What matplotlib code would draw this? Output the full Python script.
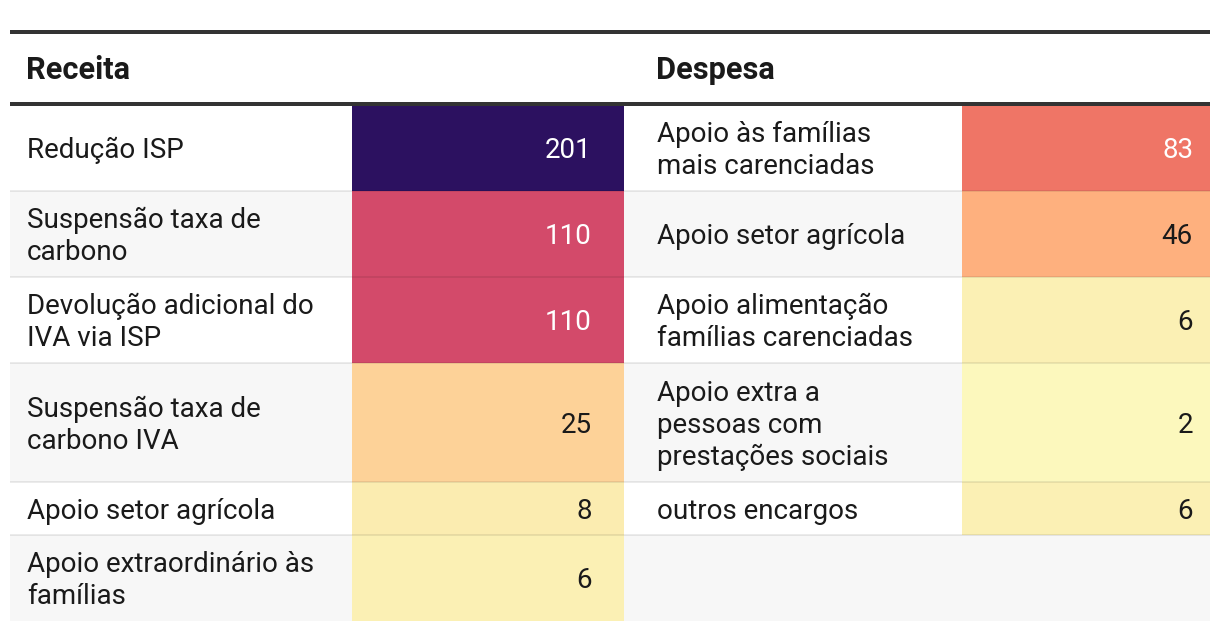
import matplotlib
matplotlib.use("Agg")
import matplotlib.pyplot as plt
from matplotlib.colors import LinearSegmentedColormap, Normalize, to_rgb
from matplotlib.patches import Rectangle

# ---------------- data ----------------
headers = ["Receita", "Despesa"]
receita_labels = [
    "Redução ISP",
    "Suspensão taxa de\ncarbono",
    "Devolução adicional do\nIVA via ISP",
    "Suspensão taxa de\ncarbono IVA",
    "Apoio setor agrícola",
    "Apoio extraordinário às\nfamílias",
]
receita_values = [201, 110, 110, 25, 8, 6]
despesa_labels = [
    "Apoio às famílias\nmais carenciadas",
    "Apoio setor agrícola",
    "Apoio alimentação\nfamílias carenciadas",
    "Apoio extra a\npessoas com\nprestações sociais",
    "outros encargos",
]
despesa_values = [83, 46, 6, 2, 6]

# colour scale (value -> colour stops)
scale_values = [0, 2, 6, 25, 46, 83, 110, 201]
scale_colors = ["#fcfdbf", "#fcf7bc", "#fbefb3", "#fdd197", "#feb07e",
                "#ef7566", "#d44a6a", "#2c1160"]

# ---------------- style ----------------
W, H = 1220, 630
FONT = "Roboto"
PX = 0.72  # px -> pt at dpi 100
FS = 27.8 * PX
FS_HEAD = 30.8 * PX
LINE = 32
TEXT_DARK = "#1a1a1a"

X_LEFT, X_C1, X_C2, X_C3, X_RIGHT = 10, 352, 624, 962, 1210
PAD = 17

vmax = max(scale_values)
norm = Normalize(0, vmax)
cmap = LinearSegmentedColormap.from_list(
    "scale", [(v / vmax, c) for v, c in zip(scale_values, scale_colors)])

fig = plt.figure(figsize=(W / 100, H / 100), dpi=100)
ax = fig.add_axes([0, 0, 1, 1])
ax.set_xlim(0, W)
ax.set_ylim(H, 0)
ax.axis("off")

n_rows = max(len(receita_labels), len(despesa_labels))


def nlines(s):
    return s.count("\n") + 1


def text_block(x, yc, s, ha, color, weight="normal", fs=FS, off=10.5):
    lines = s.split("\n")
    n = len(lines)
    for i, ln in enumerate(lines):
        yb = yc + (i - (n - 1) / 2) * LINE + off
        ax.text(x, yb, ln, ha=ha, va="baseline", fontsize=fs,
                family=FONT, color=color, fontweight=weight)


def lum(c):
    r, g, b = to_rgb(c)
    return 0.299 * r + 0.587 * g + 0.114 * b


# header
y_top_rule = 32
y_head_rule = 104
ax.plot([X_LEFT, X_RIGHT], [y_top_rule, y_top_rule], color="#333333",
        lw=4 * PX, solid_capstyle="butt")
text_block(X_LEFT + PAD - 1, 68, headers[0], "left", TEXT_DARK, "bold",
           FS_HEAD, 11)
text_block(X_C2 + 32, 68, headers[1], "left", TEXT_DARK, "bold",
           FS_HEAD, 11)

# rows
y = 105
bounds = []
for i in range(n_rows):
    nl = 1
    if i < len(receita_labels):
        nl = max(nl, nlines(receita_labels[i]))
    if i < len(despesa_labels):
        nl = max(nl, nlines(despesa_labels[i]))
    h = 20 + 33 * nl
    bg = "white" if i % 2 == 0 else "#f7f7f7"
    ax.add_patch(Rectangle((X_LEFT, y), X_RIGHT - X_LEFT, h, color=bg, lw=0))
    yc = y + h / 2
    if i < len(receita_labels):
        c = cmap(norm(receita_values[i]))
        ax.add_patch(Rectangle((X_C1, y), X_C2 - X_C1, h, color=c, lw=0))
        text_block(X_LEFT + PAD, yc, receita_labels[i], "left", TEXT_DARK)
        tc = "white" if lum(c) < 0.65 else TEXT_DARK
        text_block(X_C2 - 32, yc, str(receita_values[i]), "right", tc)
    if i < len(despesa_labels):
        c = cmap(norm(despesa_values[i]))
        ax.add_patch(Rectangle((X_C3, y), X_RIGHT - X_C3, h, color=c, lw=0))
        text_block(X_C2 + 33, yc, despesa_labels[i], "left", TEXT_DARK)
        tc = "white" if lum(c) < 0.65 else TEXT_DARK
        text_block(X_RIGHT - 17, yc, str(despesa_values[i]), "right", tc)
    y += h
    bounds.append(y)

for b in bounds[:-1]:
    ax.plot([X_LEFT, X_RIGHT], [b, b], color="black", alpha=0.08,
            lw=2 * PX, solid_capstyle="butt")

ax.plot([X_LEFT, X_RIGHT], [y_head_rule, y_head_rule], color="#333333",
        lw=4 * PX, solid_capstyle="butt")

fig.savefig("out.png", dpi=100, facecolor="white")
